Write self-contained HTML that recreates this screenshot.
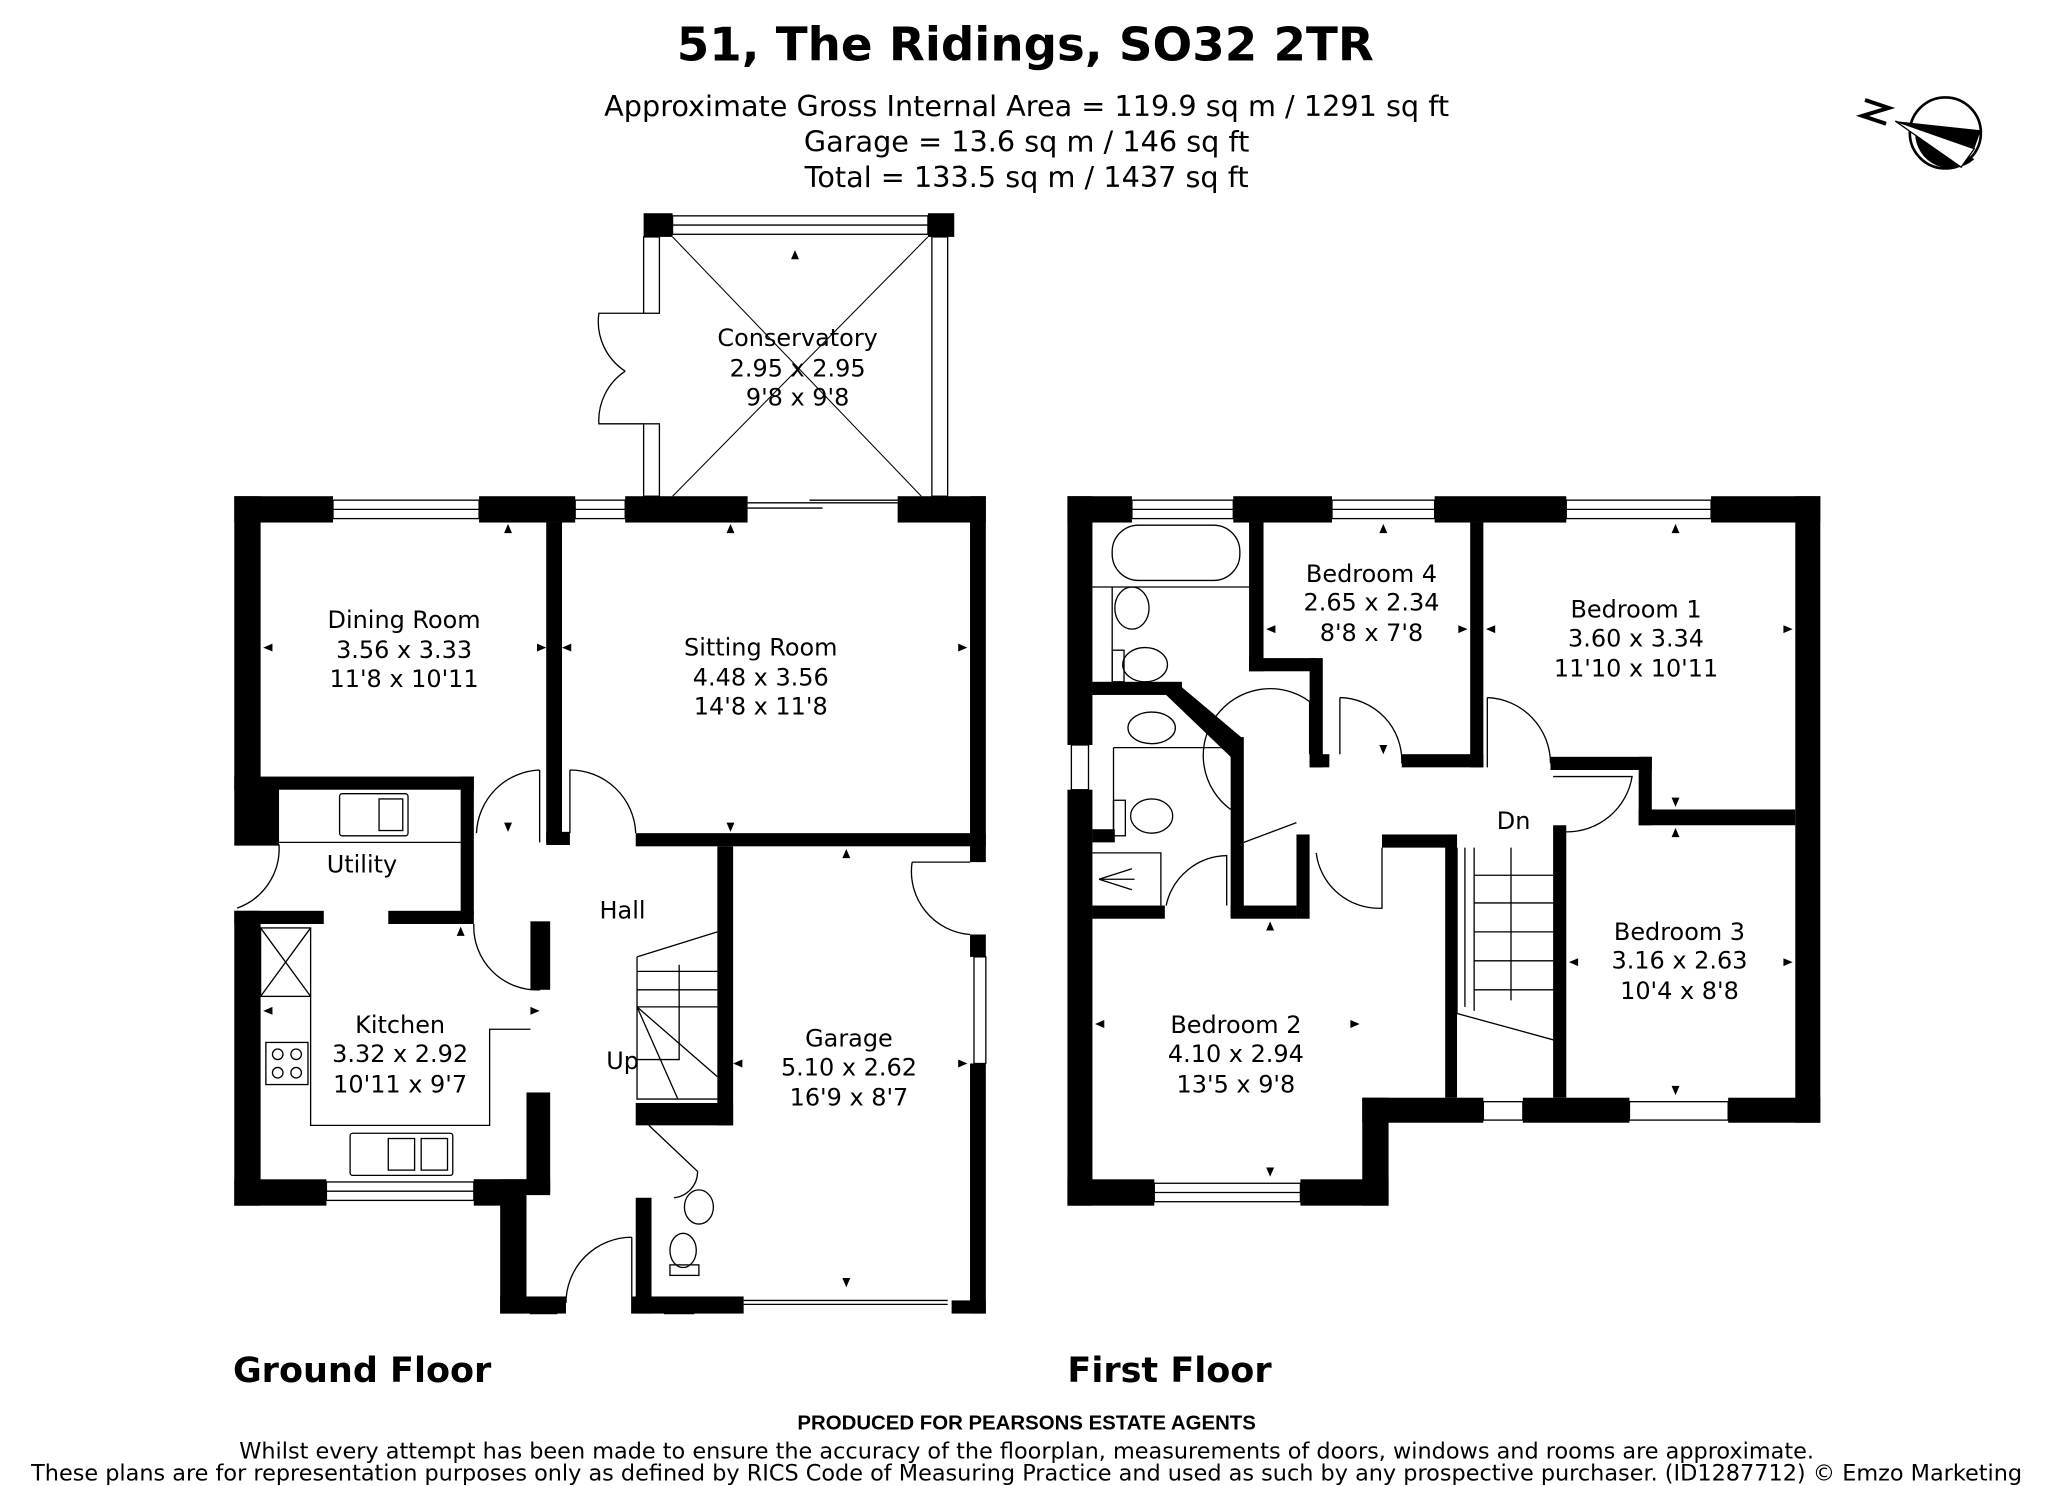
<!DOCTYPE html>
<html><head><meta charset="utf-8"><style>
html,body{margin:0;padding:0;background:#fff}
svg{display:block}
text{font-family:"DejaVu Sans","Liberation Sans",sans-serif;fill:#000}
</style></head><body>
<svg width="2048" height="1486" viewBox="0 0 1556 1129" preserveAspectRatio="none" xmlns="http://www.w3.org/2000/svg">
<rect width="1556" height="1129" fill="#fff"/>
<text x="779" y="46" text-anchor="middle" font-size="35.5" font-weight="bold">51, The Ridings, SO32 2TR</text>
<text x="780" y="88" text-anchor="middle" font-size="21.8">Approximate Gross Internal Area = 119.9 sq m / 1291 sq ft</text>
<text x="780" y="115" text-anchor="middle" font-size="21.8">Garage = 13.6 sq m / 146 sq ft</text>
<text x="780" y="142" text-anchor="middle" font-size="21.8">Total = 133.5 sq m / 1437 sq ft</text>
<!-- compass -->
<g>
<circle cx="1478" cy="101" r="27" fill="#fff" stroke="#000" stroke-width="2"/>
<path d="M1455,101 A27,27 0 0 0 1500,121 L1460,95Z" fill="#000"/>
<polygon points="1440,92 1505,99 1500,113" fill="#000"/>
<polygon points="1440,92 1500,113 1490,127" fill="#fff" stroke="#000"/>
<path d="M1417,76 L1435,82 L1415,88 L1433,94" fill="none" stroke="#000" stroke-width="3"/>
</g>
<g fill="#000">
<!-- GROUND FLOOR walls -->
<rect x="178" y="377" width="75" height="20"/>
<rect x="364" y="377" width="73" height="20"/>
<rect x="475" y="377" width="93" height="20"/>
<rect x="682" y="377" width="67" height="20"/>
<rect x="178" y="377" width="20" height="222"/>
<rect x="178" y="590" width="182" height="10"/>
<rect x="178" y="598" width="34" height="44"/>
<rect x="350" y="590" width="10" height="105"/>
<rect x="415" y="397" width="12" height="243"/>
<rect x="415" y="632" width="18" height="10"/>
<rect x="483" y="633" width="266" height="10"/>
<rect x="737" y="377" width="12" height="278"/>
<rect x="545" y="643" width="12" height="212"/>
<rect x="737" y="710" width="12" height="17"/>
<rect x="737" y="808" width="12" height="190"/>
<rect x="178" y="692" width="20" height="224"/>
<rect x="178" y="692" width="68" height="10"/>
<rect x="295" y="692" width="65" height="10"/>
<rect x="403" y="700" width="15" height="52"/>
<rect x="400" y="830" width="18" height="78"/>
<rect x="178" y="896" width="70" height="20"/>
<rect x="360" y="896" width="58" height="10"/>
<rect x="360" y="896" width="40" height="20"/>
<rect x="380" y="896" width="20" height="102"/>
<rect x="380" y="985" width="50" height="13"/>
<rect x="483" y="838" width="74" height="17"/>
<rect x="483" y="910" width="12" height="88"/>
<rect x="480" y="985" width="85" height="13"/>
<rect x="723" y="988" width="26" height="10"/>
<rect x="489" y="162" width="22" height="18"/>
<rect x="705" y="162" width="20" height="18"/>
<!-- FIRST FLOOR walls -->
<rect x="811" y="377" width="49" height="20"/>
<rect x="937" y="377" width="75" height="20"/>
<rect x="1090" y="377" width="100" height="20"/>
<rect x="1300" y="377" width="83" height="20"/>
<rect x="811" y="377" width="19" height="189"/>
<rect x="811" y="600" width="19" height="316"/>
<rect x="1364" y="377" width="19" height="476"/>
<rect x="811" y="896" width="66" height="20"/>
<rect x="988" y="896" width="67" height="20"/>
<rect x="1035" y="834" width="20" height="82"/>
<rect x="1035" y="834" width="92" height="19"/>
<rect x="1157" y="834" width="81" height="19"/>
<rect x="1313" y="834" width="70" height="19"/>
<rect x="949" y="397" width="11" height="113"/>
<rect x="949" y="500" width="51" height="10"/>
<rect x="995" y="500" width="10" height="83"/>
<rect x="995" y="573" width="15" height="10"/>
<rect x="1065" y="573" width="62" height="10"/>
<rect x="1117" y="397" width="10" height="186"/>
<rect x="1178" y="575" width="77" height="10"/>
<rect x="1245" y="575" width="10" height="52"/>
<rect x="1245" y="615" width="119" height="12"/>
<rect x="1180" y="627" width="10" height="207"/>
<rect x="1098" y="634" width="9" height="200"/>
<rect x="1050" y="634" width="57" height="10"/>
<rect x="830" y="518" width="68" height="10"/>
<polygon points="893,518 943,560 943,575 935,575 886,528"/>
<rect x="935" y="560" width="10" height="137"/>
<rect x="935" y="688" width="50" height="10"/>
<rect x="985" y="634" width="10" height="64"/>
<rect x="830" y="630" width="17" height="10"/>
<rect x="830" y="688" width="55" height="10"/>
</g>
<g fill="none" stroke="#000" stroke-width="1">
<rect x="253" y="380" width="111" height="14"/><line x1="253" y1="387" x2="364" y2="387"/>
<rect x="437" y="380" width="38" height="14"/><line x1="437" y1="387" x2="475" y2="387"/>
<line x1="568" y1="382" x2="682" y2="382"/><line x1="568" y1="386" x2="625" y2="386"/><line x1="615" y1="380" x2="682" y2="380"/>
<rect x="740" y="727" width="9" height="81"/>
<rect x="248" y="898" width="112" height="14"/><line x1="248" y1="905" x2="360" y2="905"/>
<rect x="403" y="987" width="20" height="11"/><rect x="505" y="987" width="22" height="11"/>
<line x1="565" y1="988" x2="720" y2="988"/><line x1="565" y1="991" x2="720" y2="991"/>
<!-- conservatory -->
<rect x="511" y="164" width="194" height="14"/><line x1="511" y1="171" x2="705" y2="171"/>
<rect x="489" y="180" width="12" height="58"/><rect x="489" y="322" width="12" height="55"/>
<rect x="708" y="180" width="12" height="197"/>
<path d="M511,180 L700,377 M705,180 L511,377" stroke-width="0.8"/>
<path d="M489,238 L455,238 A45,45 0 0 0 475,282 M489,322 L455,322 A45,45 0 0 1 475,282"/>
<!-- doors GF -->
<path d="M410,585 L410,640 M410,585 A50,50 0 0 0 362,633"/>
<path d="M433,585 L433,633 M433,585 A50,50 0 0 1 483,633"/>
<path d="M178,642 L212,642 A48,48 0 0 1 180,690"/>
<path d="M360,702 A48,48 0 0 0 410,752 L410,702"/>
<path d="M693,655 A48,48 0 0 0 737,710 M693,655 L737,655"/>
<path d="M480,940 L480,998 M480,940 A50,50 0 0 0 430,990"/>
<path d="M493,855 L530,890 A20,20 0 0 1 512,910"/>
<rect x="198" y="705" width="38" height="52"/><path d="M198,705 L236,757 M236,705 L198,757"/>
<path d="M212,640 L350,640 M236,757 L236,855 L372,855 L372,782 L403,782"/>
<rect x="258" y="603" width="52" height="32" rx="2"/><rect x="288" y="607" width="18" height="24"/>
<rect x="266" y="861" width="78" height="32" rx="2"/><rect x="295" y="865" width="20" height="24"/><rect x="320" y="865" width="20" height="24"/>
<rect x="202" y="792" width="32" height="32"/>
<circle cx="211" cy="801" r="4"/><circle cx="225" cy="801" r="4"/><circle cx="211" cy="815" r="4"/><circle cx="225" cy="815" r="4"/>
<path d="M484,727 L545,708 M484,727 L484,765 M484,738 L545,738 M484,752 L545,752 M484,765 L545,765 M484,765 L545,818 M484,765 L484,835 L545,835 M484,765 L515,835 M516,733 L516,805 L484,805"/>
<ellipse cx="531" cy="917" rx="11" ry="13"/><ellipse cx="519" cy="950" rx="10" ry="13"/><rect x="509" y="961" width="22" height="8"/>
<!-- FF windows -->
<rect x="860" y="380" width="77" height="14"/><line x1="860" y1="387" x2="937" y2="387"/>
<rect x="1012" y="380" width="78" height="14"/><line x1="1012" y1="387" x2="1090" y2="387"/>
<rect x="1190" y="380" width="110" height="14"/><line x1="1190" y1="387" x2="1300" y2="387"/>
<rect x="814" y="566" width="13" height="34"/>
<rect x="877" y="899" width="111" height="14"/><line x1="877" y1="906" x2="988" y2="906"/>
<rect x="1127" y="837" width="30" height="14"/><rect x="1238" y="837" width="75" height="14"/>
<rect x="845" y="399" width="97" height="42" rx="20"/>
<path d="M830,446 L949,446 M845,446 L845,518"/>
<ellipse cx="860" cy="462" rx="13" ry="16"/>
<ellipse cx="870" cy="505" rx="17" ry="13"/><rect x="845" y="494" width="9" height="24"/>
<ellipse cx="875" cy="553" rx="18" ry="12"/>
<path d="M846,568 L935,568 M846,568 L846,630"/>
<ellipse cx="875" cy="620" rx="16" ry="13"/><rect x="846" y="608" width="9" height="27"/>
<path d="M830,648 L882,648 L882,688 M835,668 L860,660 M835,668 L860,676 M835,668 L862,668"/>
<path d="M935,615 A48,48 0 0 1 995,533 L995,573"/>
<path d="M1018,530 L1018,573 M1018,530 A48,48 0 0 1 1065,580"/>
<path d="M1130,530 L1130,583 M1130,530 A50,50 0 0 1 1178,580"/>
<path d="M1180,590 L1240,590 A50,50 0 0 1 1190,632"/>
<path d="M945,640 L985,625 M886,688 A48,48 0 0 1 932,650 L932,688"/>
<path d="M1000,648 A48,48 0 0 0 1050,690 L1050,644"/>
<path d="M1107,644 L1107,770 L1180,790 M1113,644 L1113,765 M1120,644 L1120,768 M1120,665 L1180,665 M1120,686 L1180,686 M1120,708 L1180,708 M1120,730 L1180,730 M1120,752 L1180,752 M1148,644 L1148,760"/>
</g>
<g fill="#000">
<polygon points="604,190 601,197 607,197"/><polygon points="386,398 383,405 389,405"/><polygon points="555,398 552,405 558,405"/>
<polygon points="200,492 207,489 207,495"/><polygon points="415,492 408,489 408,495"/><polygon points="427,492 434,489 434,495"/><polygon points="735,492 728,489 728,495"/>
<polygon points="386,632 383,625 389,625"/><polygon points="555,632 552,625 558,625"/><polygon points="643,645 640,652 646,652"/>
<polygon points="350,704 347,711 353,711"/><polygon points="200,768 207,765 207,771"/><polygon points="410,768 403,765 403,771"/>
<polygon points="557,808 564,805 564,811"/><polygon points="735,808 728,805 728,811"/><polygon points="643,978 640,971 646,971"/>
<polygon points="1051,398 1048,405 1054,405"/><polygon points="1273,398 1270,405 1276,405"/>
<polygon points="962,478 969,475 969,481"/><polygon points="1115,478 1108,475 1108,481"/><polygon points="1129,478 1136,475 1136,481"/><polygon points="1362,478 1355,475 1355,481"/>
<polygon points="1051,573 1048,566 1054,566"/><polygon points="1273,613 1270,606 1276,606"/><polygon points="1273,629 1270,636 1276,636"/>
<polygon points="965,700 962,707 968,707"/><polygon points="1192,731 1199,728 1199,734"/><polygon points="1362,731 1355,728 1355,734"/>
<polygon points="832,778 839,775 839,781"/><polygon points="1033,778 1026,775 1026,781"/><polygon points="965,894 962,887 968,887"/><polygon points="1273,832 1270,825 1276,825"/>
</g>
<g font-size="18.2" text-anchor="middle">
<text x="606" y="263">Conservatory</text><text x="606" y="286">2.95 x 2.95</text><text x="606" y="308">9'8 x 9'8</text>
<text x="307" y="477">Dining Room</text><text x="307" y="500">3.56 x 3.33</text><text x="307" y="522">11'8 x 10'11</text>
<text x="578" y="498">Sitting Room</text><text x="578" y="521">4.48 x 3.56</text><text x="578" y="543">14'8 x 11'8</text>
<text x="275" y="663">Utility</text><text x="473" y="698">Hall</text>
<text x="304" y="785">Kitchen</text><text x="304" y="807">3.32 x 2.92</text><text x="304" y="830">10'11 x 9'7</text>
<text x="645" y="795">Garage</text><text x="645" y="817">5.10 x 2.62</text><text x="645" y="840">16'9 x 8'7</text>
<text x="473" y="812">Up</text>
<text x="1042" y="442">Bedroom 4</text><text x="1042" y="464">2.65 x 2.34</text><text x="1042" y="487">8'8 x 7'8</text>
<text x="1243" y="469">Bedroom 1</text><text x="1243" y="491">3.60 x 3.34</text><text x="1243" y="514">11'10 x 10'11</text>
<text x="1150" y="630">Dn</text>
<text x="1276" y="714">Bedroom 3</text><text x="1276" y="736">3.16 x 2.63</text><text x="1276" y="759">10'4 x 8'8</text>
<text x="939" y="785">Bedroom 2</text><text x="939" y="807">4.10 x 2.94</text><text x="939" y="830">13'5 x 9'8</text>
</g>
<text x="177" y="1050" font-size="26.6" font-weight="bold">Ground Floor</text>
<text x="811" y="1050" font-size="26.6" font-weight="bold">First Floor</text>
<text x="780" y="1086" text-anchor="middle" font-size="15.5" font-weight="bold" style="font-family:'Liberation Sans',sans-serif">PRODUCED FOR PEARSONS ESTATE AGENTS</text>
<text x="780" y="1108" text-anchor="middle" font-size="17">Whilst every attempt has been made to ensure the accuracy of the floorplan, measurements of doors, windows and rooms are approximate.</text>
<text x="780" y="1129" text-anchor="middle" font-size="17" dy="-4">These plans are for representation purposes only as defined by RICS Code of Measuring Practice and used as such by any prospective purchaser. (ID1287712) © Emzo Marketing</text>
</svg>
</body></html>
